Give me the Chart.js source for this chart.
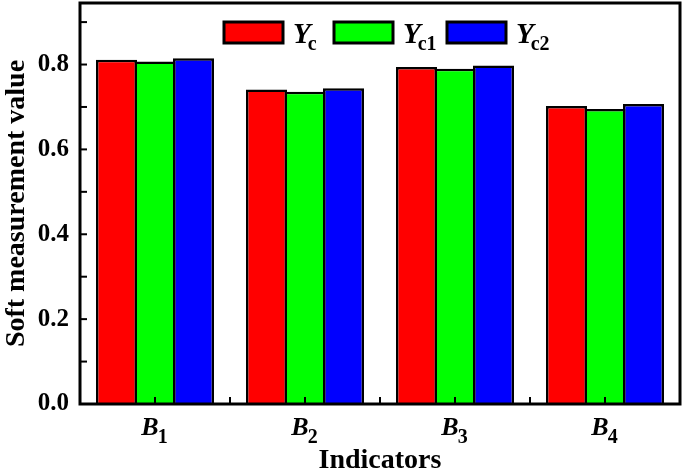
<!DOCTYPE html>
<html>
<head>
<meta charset="utf-8">
<script src="https://cdn.jsdelivr.net/npm/chart.js@4/dist/chart.umd.min.js"></script>
<style>
html,body{margin:0;padding:0;background:#fff;}
#c{display:block;}
</style>
</head>
<body>
<canvas id="c" width="685" height="474"></canvas>
<script>
// ---- data ----
const categories = ['B1', 'B2', 'B3', 'B4'];
const categoryLetter = ['B', 'B', 'B', 'B'];
const categoryIndex = ['1', '2', '3', '4'];
const seriesNames = ['Yc', 'Yc1', 'Yc2'];
const seriesBase = ['Y', 'Y', 'Y'];
const seriesSub = ['c', 'c1', 'c2'];
const Yc  = [0.811, 0.741, 0.794, 0.702];
const Yc1 = [0.807, 0.736, 0.790, 0.695];
const Yc2 = [0.815, 0.744, 0.798, 0.707];
const seriesColors = ['#ff0000', '#00ff00', '#0000ff'];
const yMin = 0, yMax = 0.945, yStep = 0.1;

const FAM = '"Liberation Serif","Times New Roman",serif';

const decor = {
  id: 'decor',
  afterDatasetsDraw(chart) {
    const ctx = chart.ctx;
    const a = chart.chartArea;
    const xs = chart.scales.x, ys = chart.scales.y;
    ctx.save();
    ctx.strokeStyle = '#000';
    ctx.lineWidth = 2;
    // inward y ticks
    ys.ticks.forEach(t => {
      const y = ys.getPixelForValue(t.value);
      ctx.beginPath(); ctx.moveTo(a.left, y); ctx.lineTo(a.left + 7, y); ctx.stroke();
    });
    // inward x ticks (centers + boundaries)
    for (let i = 0; i < categories.length; i++) {
      const x = xs.getPixelForValue(i);
      ctx.beginPath(); ctx.moveTo(x, a.bottom); ctx.lineTo(x, a.bottom - 7); ctx.stroke();
      if (i < categories.length - 1) {
        const xb = (x + xs.getPixelForValue(i + 1)) / 2;
        ctx.beginPath(); ctx.moveTo(xb, a.bottom); ctx.lineTo(xb, a.bottom - 7); ctx.stroke();
      }
    }
    // frame
    ctx.lineWidth = 3;
    ctx.strokeRect(a.left, a.top, a.right - a.left, a.bottom - a.top);

    // category labels with subscripts
    ctx.fillStyle = '#000';
    ctx.textBaseline = 'alphabetic';
    for (let i = 0; i < categories.length; i++) {
      const x = xs.getPixelForValue(i);
      ctx.font = 'italic bold 26px ' + FAM;
      const w1 = ctx.measureText(categoryLetter[i]).width;
      ctx.font = 'bold 20px ' + FAM;
      const w2 = ctx.measureText(categoryIndex[i]).width;
      const x0 = x - (w1 + w2) / 2;
      ctx.font = 'italic bold 26px ' + FAM;
      ctx.textAlign = 'left';
      ctx.fillText(categoryLetter[i], x0, a.bottom + 31);
      ctx.font = 'bold 20px ' + FAM;
      ctx.fillText(categoryIndex[i], x0 + w1 - 1, a.bottom + 39);
    }

    // legend
    const boxX = [224, 334, 447];
    const boxW = 59, boxH = 21, boxY = 22;
    for (let k = 0; k < seriesNames.length; k++) {
      ctx.fillStyle = seriesColors[k];
      ctx.fillRect(boxX[k], boxY, boxW, boxH);
      ctx.lineWidth = 3;
      ctx.strokeStyle = '#000';
      ctx.strokeRect(boxX[k], boxY, boxW, boxH);
      ctx.fillStyle = '#000';
      ctx.font = 'italic bold 29px ' + FAM;
      const tx = boxX[k] + boxW + 10;
      ctx.fillText(seriesBase[k], tx, 43);
      const wy = ctx.measureText(seriesBase[k]).width;
      ctx.font = 'bold 20px ' + FAM;
      ctx.fillText(seriesSub[k], tx + wy - 3, 50);
    }
    ctx.restore();
  }
};

const datasets = [Yc, Yc1, Yc2].map((d, k) => ({
  label: seriesNames[k],
  data: d,
  backgroundColor: seriesColors[k],
  borderColor: '#000',
  borderWidth: 2.5,
  borderSkipped: 'start',
  categoryPercentage: 0.77,
  barPercentage: 1.065
}));

new Chart(document.getElementById('c'), {
  type: 'bar',
  data: { labels: categories, datasets },
  options: {
    responsive: false,
    animation: false,
    devicePixelRatio: 1,
    layout: { padding: { top: 3, right: 5, left: 0, bottom: 0 } },
    plugins: { legend: { display: false }, tooltip: { enabled: false } },
    scales: {
      x: {
        grid: { display: false, drawTicks: false },
        border: { display: false },
        ticks: { display: false },
        title: { display: true, text: 'Indicators', color: '#000',
                 font: { family: FAM, size: 28, weight: 'bold', lineHeight: 0.95 }, padding: { top: 0, bottom: 0 } },
        afterFit: s => { s.height = 70; s.paddingLeft = 0; s.paddingRight = 0; }
      },
      y: {
        min: yMin, max: yMax,
        grid: { display: false, drawTicks: false },
        border: { display: false },
        ticks: {
          stepSize: yStep, includeBounds: false, padding: 11, color: '#000',
          font: { family: FAM, size: 25, weight: 'bold' },
          callback: v => (Math.round(v * 10) % 2 === 0 ? v.toFixed(1) : '')
        },
        title: { display: true, text: 'Soft measurement value', color: '#000',
                 font: { family: FAM, size: 28, weight: 'bold' }, padding: { top: 0, bottom: 0 } },
        afterFit: s => { s.width = 80; s.paddingTop = 0; s.paddingBottom = 0; }
      }
    }
  },
  plugins: [decor]
});
</script>
</body>
</html>
